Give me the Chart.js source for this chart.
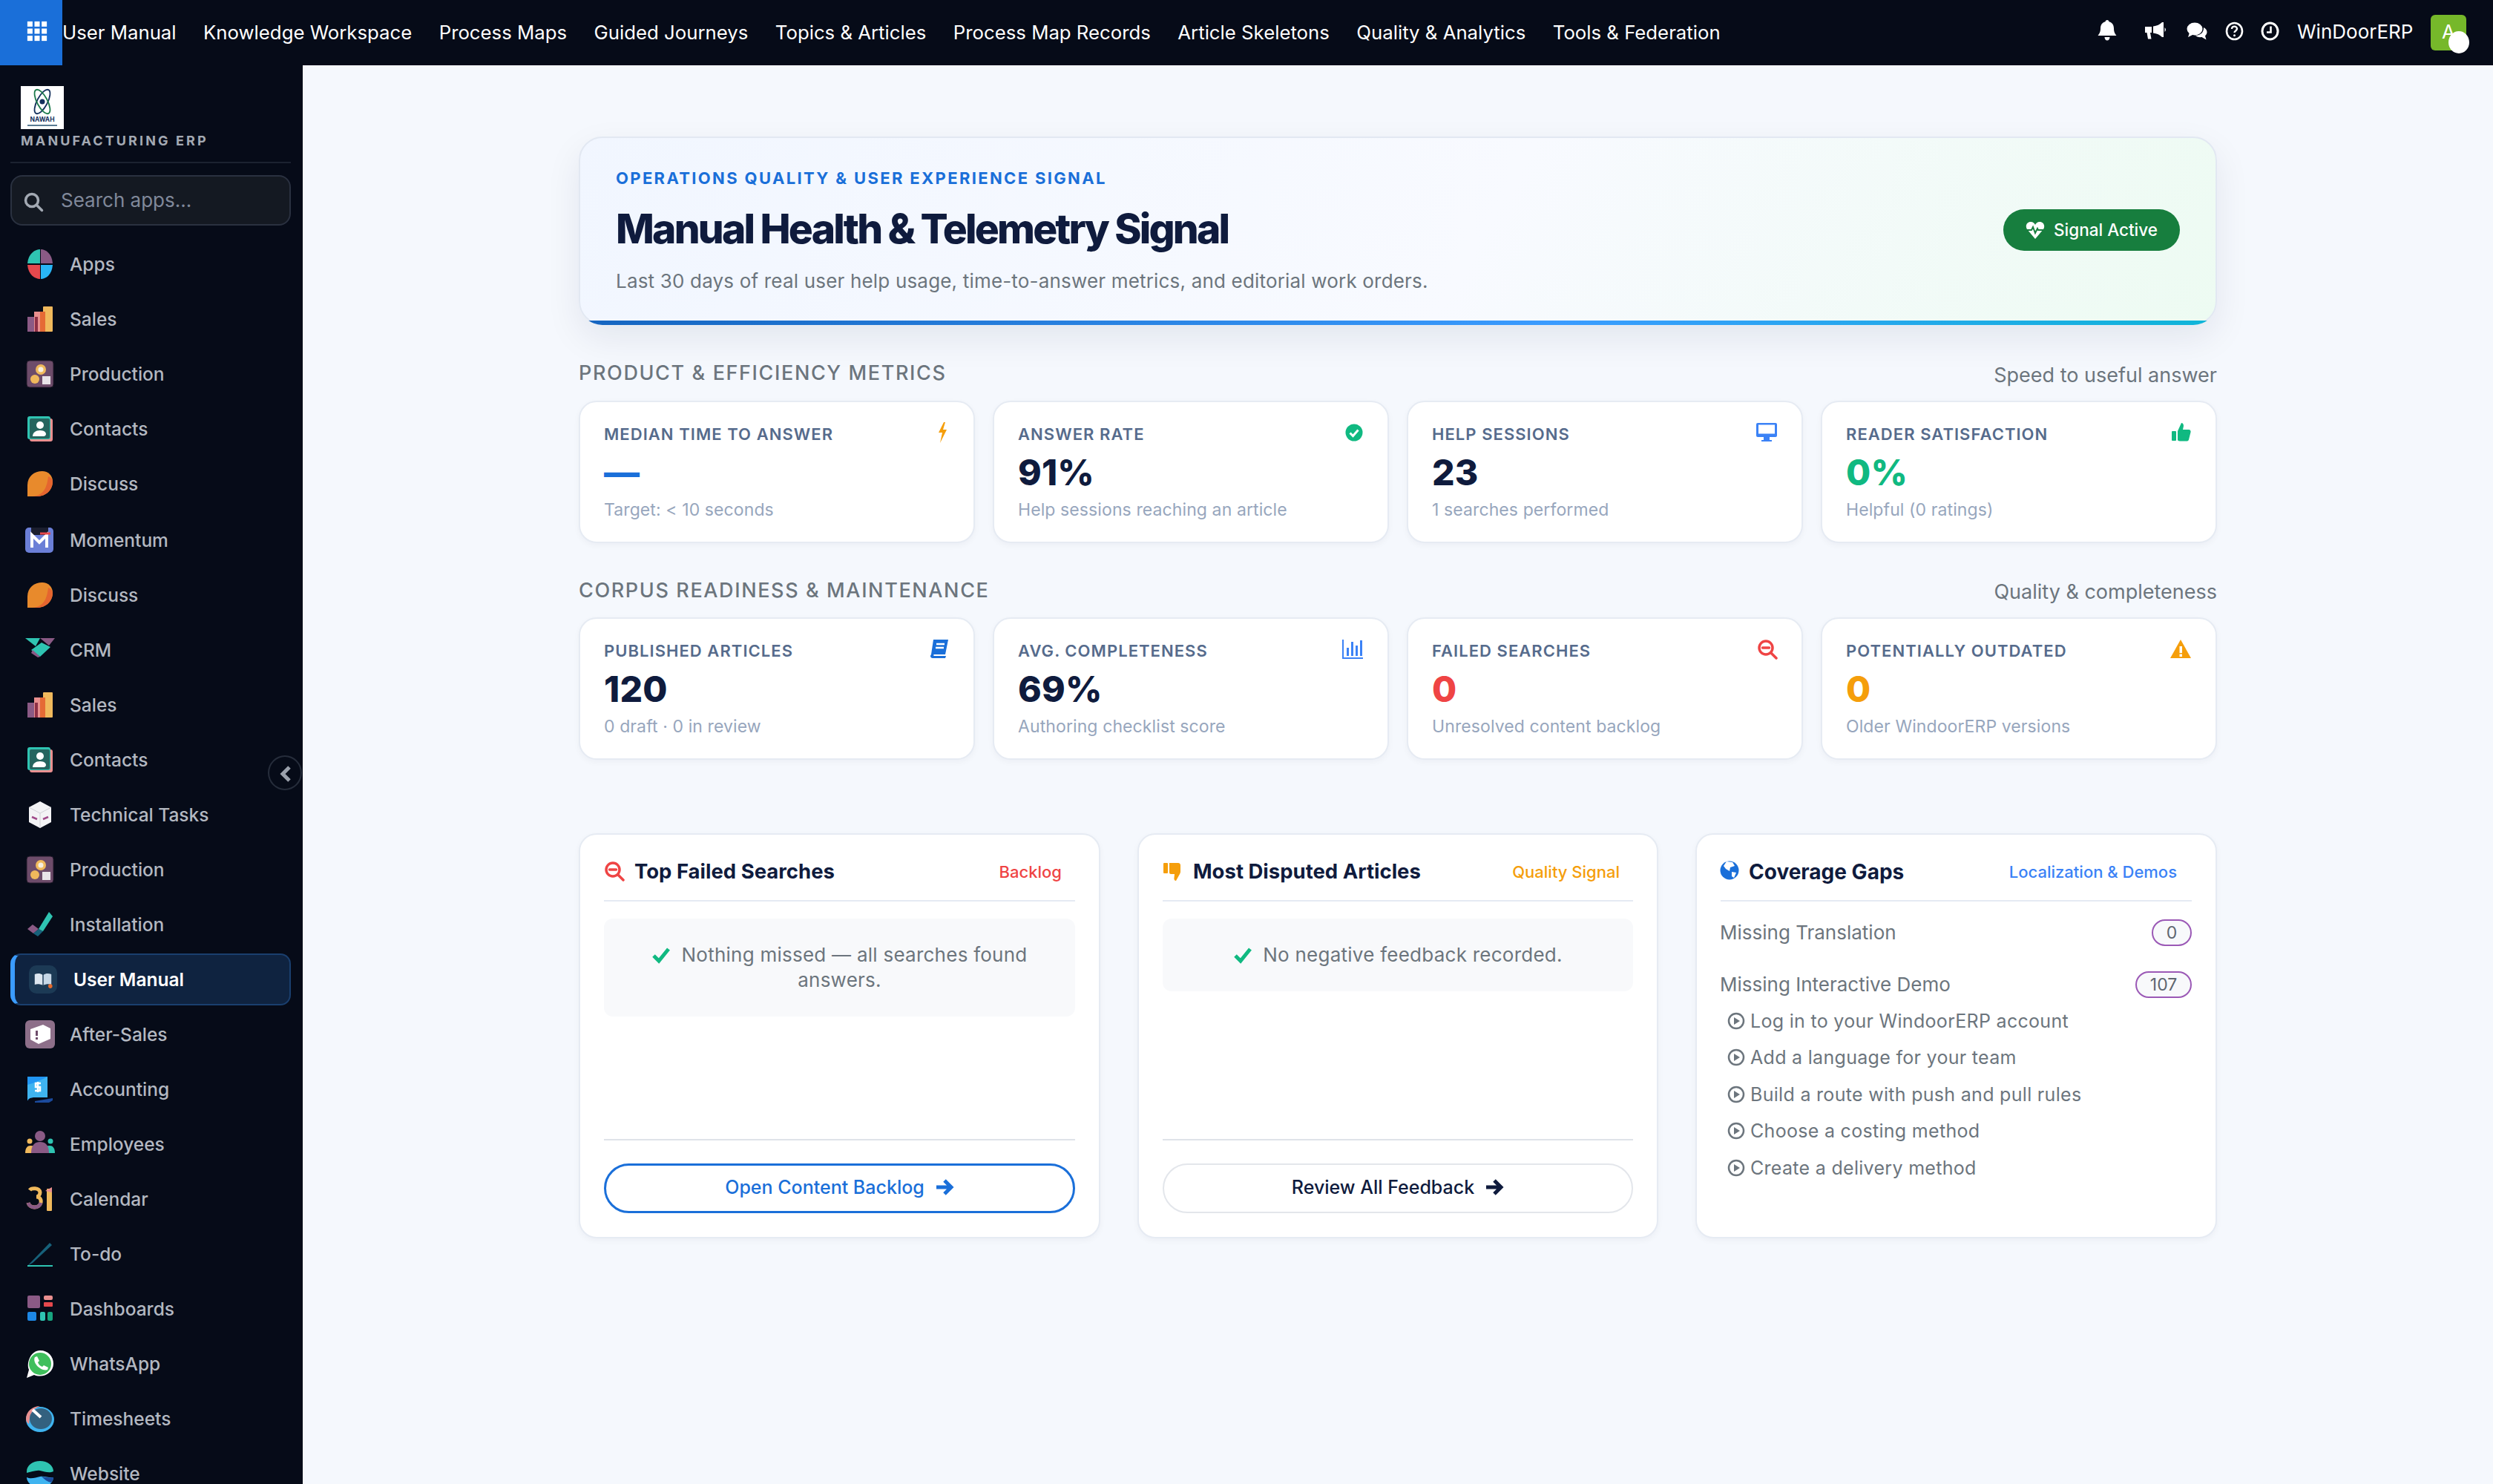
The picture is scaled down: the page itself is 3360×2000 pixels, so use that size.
<!DOCTYPE html>
<html lang="en">
<head>
<meta charset="utf-8">
<title>Manual Health &amp; Telemetry Signal</title>
<script src="https://cdn.jsdelivr.net/npm/chart.js@4"></script>
<style>
* { box-sizing: border-box; margin: 0; padding: 0; }
html, body { width: 3360px; height: 2000px; overflow: hidden; }
body { background: #f5f8fd; font-family: Inter, "Noto Sans", sans-serif; color: #0f1b3d; position: relative; }
.abs { position: absolute; }
.line { position: absolute; white-space: nowrap; line-height: 1; transform: translateY(-50%); }

#topbar { left: 0; top: 0; width: 3360px; height: 88px; background: #060b18; }
#launcher { left: 0; top: 0; width: 84px; height: 88px; background: #1a6fd9; }
#nav { left: 84px; top: 0; height: 86px; display: flex; align-items: center; gap: 36.5px; color: #fff; font-size: 25.75px; white-space: nowrap; }
#avatar { left: 3276px; top: 20px; width: 48px; height: 48px; background: #76b82a; border-radius: 6px; color: #fff; font-size: 26px; line-height: 46px; padding-left: 15px; }
#blob { left: 3300px; top: 42px; width: 28px; height: 30px; background: #fff; border-radius: 50%; }

#sidebar { left: 0; top: 88px; width: 408px; height: 1912px; background: #060b18; overflow: hidden; }
#logo { left: 28px; top: 116px; width: 58px; height: 58px; background: #fff; }
#brand { left: 28px; top: 190px; font-size: 18px; font-weight: 700; letter-spacing: 3.1px; color: #a3a9b3; }
#brandRule { left: 14px; top: 218px; width: 378px; height: 2px; background: #1b2230; }
#search { left: 14px; top: 236px; width: 378px; height: 68px; background: #141922; border: 2px solid #2a3140; border-radius: 16px; }
#searchText { left: 82px; top: 270px; font-size: 26px; color: #80889a; }
.side-item { position: absolute; left: 94px; font-size: 24.5px; font-weight: 500; color: #b3b8c1; white-space: nowrap; line-height: 1; transform: translateY(-50%); }
.side-icon { position: absolute; left: 34px; width: 40px; height: 40px; transform: translateY(-50%); }
#active { left: 14px; top: 1285px; width: 378px; height: 70px; background: #0f2340; border: 2px solid #1a3f6e; border-left: 6px solid #3b9cff; border-radius: 14px; }
#activeIcon { left: 39px; top: 1301px; width: 38px; height: 38px; background: #1c3a55; border-radius: 10px; }
#collapse { left: 361px; top: 1018px; width: 46px; height: 47px; background: #060b18; border: 2px solid #262d3b; border-radius: 50%; }

#hero { left: 780px; top: 184px; width: 2208px; height: 254px; border: 2px solid #e2e8f2; border-radius: 32px; background: linear-gradient(120deg, #f1f6ff 0%, #f8faff 55%, #edfbf2 100%); box-shadow: 0 18px 48px rgba(15, 27, 61, .08); }
#stripClip { left: 780px; top: 184px; width: 2208px; height: 254px; border-radius: 32px; overflow: hidden; }
#signalStrip { position: absolute; left: 0; bottom: 0; display: block; }
#eyebrow { left: 830px; top: 240px; font-size: 22px; font-weight: 700; letter-spacing: 2.35px; color: #1a6fd9; }
#title { left: 830px; top: 308px; font-size: 55px; font-weight: 800; letter-spacing: -2.8px; color: #0f1b3d; }
#desc { left: 830px; top: 379px; font-size: 26px; color: #6c757d; letter-spacing: .18px; }
#pill { left: 2700px; top: 282px; width: 238px; height: 56px; background: #177e3e; border-radius: 28px; color: #fff; font-size: 22.5px; font-weight: 500; }
#pill span { position: absolute; left: 68px; top: 28px; transform: translateY(-50%); white-space: nowrap; line-height: 1; }

.sec { font-size: 27px; font-weight: 500; letter-spacing: 1.62px; color: #6c757d; }
.sec-note { font-size: 27px; color: #6c757d; right: 372px; }

.kpi { position: absolute; width: 534px; height: 192px; background: #fff; border: 2px solid #e6ebf3; border-radius: 24px; box-shadow: 0 3px 8px rgba(15, 27, 61, .04); }
.kpi .lab { left: 32px; top: 43px; font-size: 22px; font-weight: 600; letter-spacing: 1.05px; color: #566b8c; }
.kpi .val { left: 32px; top: 95px; font-size: 48px; font-weight: 800; letter-spacing: .2px; color: #0f1b3d; }
.kpi .note { left: 32px; top: 145px; font-size: 23px; color: #97a6bd; letter-spacing: .1px; }
.kpi svg { position: absolute; top: 26px; right: 32px; width: 30px; height: 30px; }

.panel { position: absolute; top: 1123px; width: 703px; height: 546px; background: #fff; border: 2px solid #e6ebf3; border-radius: 24px; box-shadow: 0 3px 8px rgba(15, 27, 61, .04); }
.p-title { top: 50px; left: 73px; font-size: 27.5px; font-weight: 700; color: #0f1b3d; }
.p-icon { position: absolute; left: 32px; top: 35px; width: 28px; height: 28px; }
.p-tag { top: 50px; right: 50px; font-size: 22px; font-weight: 500; }
.p-rule { position: absolute; left: 32px; right: 32px; top: 88px; height: 2px; background: #e5eaf3; }
.p-foot { position: absolute; left: 32px; right: 32px; top: 410px; height: 2px; background: #dfe3e9; }
.empty { position: absolute; left: 32px; right: 32px; top: 113px; background: #f8f9fb; border-radius: 12px; text-align: center; font-size: 26px; line-height: 34px; color: #6c757d; padding: 32px 40px; letter-spacing: .25px; }
.empty svg { width: 26px; height: 26px; vertical-align: -4px; margin-right: 14px; }
.btn { position: absolute; left: 32px; right: 32px; top: 443px; height: 67px; border-radius: 34px; display: flex; align-items: center; justify-content: center; font-size: 25px; font-weight: 500; background: #fff; gap: 14px; padding-bottom: 3px; }
.btn svg { width: 26px; height: 26px; }
.btn.blue { border: 3px solid #1a6fd9; color: #1a6fd9; }
.btn.plain { border: 2px solid #e3e6eb; color: #0f1b3d; }
.gap-row { left: 31px; font-size: 26px; color: #6c757d; }
.count { position: absolute; right: 32px; height: 36px; border: 2px solid #9b59b6; border-radius: 18px; background: #f8f9fb; font-size: 23px; color: #5f6670; text-align: center; line-height: 33px; }
.demo { left: 72px; font-size: 25px; color: #6c757d; letter-spacing: .3px; }
.demo-icon { position: absolute; left: 41px; width: 24px; height: 24px; transform: translateY(-50%); }
</style>
</head>
<body>
<div class="abs" id="topbar"></div>
<div class="abs" id="launcher">
  <svg class="abs" style="left:36px;top:28px" width="28" height="28" viewBox="0 0 32 32" fill="#fff">
    <rect x="1" y="1" width="8" height="8"/><rect x="12" y="1" width="8" height="8"/><rect x="23" y="1" width="8" height="8"/>
    <rect x="1" y="12" width="8" height="8"/><rect x="12" y="12" width="8" height="8"/><rect x="23" y="12" width="8" height="8"/>
    <rect x="1" y="23" width="8" height="8"/><rect x="12" y="23" width="8" height="8"/><rect x="23" y="23" width="8" height="8"/>
  </svg>
</div>
<div class="abs" id="nav"></div>
<svg class="abs" style="left:2826px;top:26px" width="28" height="30" viewBox="0 0 28 30" fill="#fff"><path d="M14 1c1.500 0 2.500 1 2.500 2.300 4.500 1 6.500 4.600 6.500 9 0 4.800 1.500 7 3.500 9.700H1.500C3.500 19.300 5 17.100 5 12.300c0-4.400 2-8 6.500-9C11.500 2 12.500 1 14 1zM10.500 24h7c0 2.400-1.500 4.500-3.500 4.500s-3.500-2.100-3.500-4.500z"/></svg>
<svg class="abs" style="left:2890px;top:29px" width="30" height="26" viewBox="0 0 30 26" fill="#fff"><path d="M26 1v20l-2 0c-3-3-7-5-12-5.500V6.500C17 6 21 4 24 1zM1 7h9v8H8l1.500 8.500H5L3.500 15H1zM27.500 8c1 1 1.500 2 1.500 3s-.5 2-1.500 3z"/></svg>
<svg class="abs" style="left:2947px;top:29px" width="28" height="26" viewBox="0 0 28 26" fill="#fff"><ellipse cx="11" cy="10" rx="10.500" ry="8.500"/><path d="M4 15l-2 6 7-3.500zM23 8c3 1.500 4.500 3.800 4.500 6.300 0 2-1 3.700-2.500 5l1.500 5.200-6-3.500c-4 .5-7-.5-9-2.500 6 .5 12-3 11.500-10.500z"/></svg>
<svg class="abs" style="left:2999px;top:29px" width="25" height="26" viewBox="0 0 25 26" fill="none" stroke="#fff" stroke-width="2.600"><ellipse cx="12.500" cy="13" rx="10.500" ry="11"/><path d="M9 10c0-2.200 1.500-3.400 3.500-3.400S16 8 16 9.800c0 2.600-3.500 2.700-3.500 5.200" stroke-width="2.400"/><circle cx="12.500" cy="18.800" r="1.500" fill="#fff" stroke="none"/></svg>
<svg class="abs" style="left:3047px;top:29px" width="25" height="26" viewBox="0 0 25 26" fill="none" stroke="#fff" stroke-width="3"><ellipse cx="12.500" cy="13" rx="10.500" ry="11"/><path d="M13.500 6.500V14.500H8" stroke-width="2.600"/></svg>
<div class="line" style="left:3096px;top:43px;font-size:26px;color:#fff" id="userName"></div>
<div class="abs" id="avatar">A</div>
<div class="abs" id="blob"></div>

<div class="abs" id="sidebar"></div>
<div class="abs" id="logo">
  <svg width="58" height="58" viewBox="0 0 58 58">
    <g fill="none" stroke-width="1.800">
      <ellipse cx="29" cy="21" rx="7" ry="18" stroke="#14305c" transform="rotate(28 29 21)"/>
      <ellipse cx="29" cy="21" rx="7" ry="18" stroke="#1c7a4b" transform="rotate(-28 29 21)"/>
      <circle cx="29" cy="21" r="3.500" fill="#14305c" stroke="none"/>
    </g>
    <text x="29" y="48" font-size="8.500" font-weight="700" text-anchor="middle" fill="#14305c" font-family="Inter">NAWAH</text>
    <rect x="9" y="52" width="40" height="2" fill="#5a7a92"/>
  </svg>
</div>
<div class="line" id="brand"></div>
<div class="abs" id="brandRule"></div>
<div class="abs" id="search"></div>
<svg class="abs" style="left:31px;top:258px" width="28" height="28" viewBox="0 0 28 28" fill="none" stroke="#a3a9b3" stroke-width="3.500"><circle cx="12" cy="12" r="8.500"/><path d="M18.500 18.500l7 7" stroke-linecap="round"/></svg>
<div class="line" id="searchText"></div>
<div class="abs" id="active"></div>
<div class="abs" id="activeIcon"></div>
<div id="sideList"></div>
<div class="abs" id="collapse">
  <svg class="abs" style="left:13px;top:11px" width="18" height="24" viewBox="0 0 18 24" fill="none" stroke="#9aa0ab" stroke-width="5"><path d="M14 3L5 12l9 9"/></svg>
</div>

<div class="abs" id="hero"></div>
<div class="abs" id="stripClip"><canvas id="signalStrip" width="2208" height="6"></canvas></div>
<div class="line" id="eyebrow"></div>
<div class="line" id="title"></div>
<div class="line" id="desc"></div>
<div class="abs" id="pill">
  <svg class="abs" style="left:30px;top:15px" width="26" height="26" viewBox="0 0 26 26"><path d="M13 25L2 12C-1 7 2 2 7 2c3 0 5 2 6 4 1-2 3-4 6-4 5 0 8 5 5 10z" fill="#fff"/><path d="M1 13h7l2-4 3 8 3-6 1 2h8" fill="none" stroke="#177e3e" stroke-width="2"/></svg>
  <span id="pillText"></span>
</div>

<div class="line sec" id="sec1" style="left:780px;top:502px"></div>
<div class="line sec-note" id="sec1Note" style="top:505px"></div>
<div id="row1"></div>
<div class="line sec" id="sec2" style="left:780px;top:795px"></div>
<div class="line sec-note" id="sec2Note" style="top:797px"></div>
<div id="row2"></div>

<div class="panel" style="left:780px">
  <svg class="p-icon" viewBox="0 0 28 28" fill="none" stroke="#ef4444" stroke-width="3.500"><circle cx="12" cy="12" r="9"/><path d="M19 19l7 7M7.500 12h9" stroke-linecap="round"/></svg>
  <div class="line p-title" id="p1Title"></div>
  <div class="line p-tag" id="p1Tag" style="color:#ef4444"></div>
  <div class="p-rule"></div>
  <div class="empty"><svg viewBox="0 0 26 26" fill="none" stroke="#10b981" stroke-width="5"><path d="M3 14l7 7L23 5"/></svg><span id="p1Empty"></span></div>
  <div class="p-foot"></div>
  <div class="btn blue"><span id="p1Btn"></span><svg viewBox="0 0 26 26" fill="none" stroke="#1a6fd9" stroke-width="5"><path d="M2 13h19M13 4l9 9-9 9"/></svg></div>
</div>
<div class="panel" style="left:1533px;width:702px">
  <svg class="p-icon" viewBox="0 0 28 28" fill="#f59e0b"><rect x="1" y="3" width="6" height="14" rx="1"/><path d="M9 3h12c1.500 0 3 1 3 3v9c0 1-.5 2-1 3l-5 9c-2 0-3-2-2.500-4l.5-5H11c-1 0-2-1-2-2z"/></svg>
  <div class="line p-title" id="p2Title"></div>
  <div class="line p-tag" id="p2Tag" style="color:#f59e0b"></div>
  <div class="p-rule"></div>
  <div class="empty"><svg viewBox="0 0 26 26" fill="none" stroke="#10b981" stroke-width="5"><path d="M3 14l7 7L23 5"/></svg><span id="p2Empty"></span></div>
  <div class="p-foot"></div>
  <div class="btn plain"><span id="p2Btn"></span><svg viewBox="0 0 26 26" fill="none" stroke="#0f1b3d" stroke-width="5"><path d="M2 13h19M13 4l9 9-9 9"/></svg></div>
</div>
<div class="panel" id="gapPanel" style="left:2285px">
  <svg class="p-icon" style="left:31px;top:35px;width:26px;height:26px" viewBox="0 0 26 26"><circle cx="13" cy="13" r="12.500" fill="#1a6fd9"/><path d="M9 1l8 1 3 5-6 2-1 5-5-3-3-4zM16 15l6 1-3 7-3-2z" fill="#fff"/></svg>
  <div class="line p-title" id="p3Title" style="left:70px;font-size:28px"></div>
  <div class="line p-tag" id="p3Tag" style="color:#3b82f6;right:52px"></div>
  <div class="p-rule"></div>
</div>

<script>
// The reference is a metrics page with no plotted series. Its one drawn bar is the
// full-width signal strip under the hero, so that strip is what Chart.js draws.
const navLabels = ['User Manual', 'Knowledge Workspace', 'Process Maps', 'Guided Journeys', 'Topics & Articles', 'Process Map Records', 'Article Skeletons', 'Quality & Analytics', 'Tools & Federation'];
const sideLabels = ['Apps', 'Sales', 'Production', 'Contacts', 'Discuss', 'Momentum', 'Discuss', 'CRM', 'Sales', 'Contacts', 'Technical Tasks', 'Production', 'Installation', 'User Manual', 'After-Sales', 'Accounting', 'Employees', 'Calendar', 'To-do', 'Dashboards', 'WhatsApp', 'Timesheets', 'Website'];
const sideIcons = ['apps', 'sales', 'production', 'contacts', 'discuss', 'momentum', 'discuss', 'crm', 'sales', 'contacts', 'tech', 'production', 'install', 'manual', 'after', 'accounting', 'employees', 'calendar', 'todo', 'dashboards', 'whatsapp', 'timesheets', 'website'];

const productLabels = ['MEDIAN TIME TO ANSWER', 'ANSWER RATE', 'HELP SESSIONS', 'READER SATISFACTION'];
const productValues = ['—', '91%', '23', '0%'];
const productNotes = ['Target: < 10 seconds', 'Help sessions reaching an article', '1 searches performed', 'Helpful (0 ratings)'];
const corpusLabels = ['PUBLISHED ARTICLES', 'AVG. COMPLETENESS', 'FAILED SEARCHES', 'POTENTIALLY OUTDATED'];
const corpusValues = ['120', '69%', '0', '0'];
const corpusNotes = ['0 draft · 0 in review', 'Authoring checklist score', 'Unresolved content backlog', 'Older WindoorERP versions'];

const gapLabels = ['Missing Translation', 'Missing Interactive Demo'];
const gapCounts = ['0', '107'];
const demoTopics = ['Log in to your WindoorERP account', 'Add a language for your team', 'Build a route with push and pull rules', 'Choose a costing method', 'Create a delivery method'];

const signalLabels = ['Signal'];
const signalValues = [100];

const kpiIcons = {
  bolt: '<svg viewBox="0 0 30 30" fill="#f59e0b"><path d="M22 1L15 15h5l-3 14 9-18h-5l3-10z"/></svg>',
  check: '<svg viewBox="0 0 30 30"><circle cx="17" cy="15" r="11.500" fill="#10b981"/><path d="M11.500 15.500l4 4 7-8" fill="none" stroke="#fff" stroke-width="3"/></svg>',
  screen: '<svg viewBox="0 0 30 30"><rect x="1" y="2" width="28" height="19" rx="2" fill="#3b82f6"/><rect x="4" y="4.500" width="22" height="12" fill="#fff"/><rect x="11" y="21" width="8" height="4" fill="#3b82f6"/><rect x="8" y="25" width="14" height="2" fill="#3b82f6"/></svg>',
  thumb: '<svg viewBox="0 0 30 30" fill="#10b981"><rect x="3" y="13" width="6" height="13" rx="1"/><path d="M11 13l5-11c2 0 3 2 3 4l-1 5h8c2 0 3 2 2.500 3.500l-2.500 10c-.5 1.500-1.500 2-3 2H14c-2 0-3-1-3-2z"/></svg>',
  book: '<svg viewBox="0 0 30 30"><path d="M8 2h20l-4 20H5z" fill="#1a6fd9"/><path d="M5 22c-2 2-1 5 2 5h17l1-3H9c-1 0-1-2 0-2z" fill="#1a6fd9"/><path d="M12 8h11M11 13h11" stroke="#fff" stroke-width="2.500"/></svg>',
  bars: '<svg viewBox="0 0 30 30" fill="#3b82f6"><rect x="1" y="26" width="28" height="2"/><rect x="1" y="2" width="2" height="25"/><rect x="7" y="13" width="3" height="11"/><rect x="13" y="5" width="3" height="19"/><rect x="19" y="10" width="3" height="14"/><rect x="25" y="3" width="3" height="21"/></svg>',
  zoom: '<svg viewBox="0 0 30 30" fill="none" stroke="#ef4444" stroke-width="3.500"><circle cx="14" cy="13" r="9"/><path d="M21 20l7 7M9.500 13h9" stroke-linecap="round"/></svg>',
  warn: '<svg viewBox="0 0 30 30"><path d="M15 2l14 25H1z" fill="#f59e0b"/><rect x="13.500" y="11" width="3.500" height="9" fill="#fff"/><rect x="13.500" y="21.500" width="3.500" height="3.500" fill="#fff"/></svg>'
};

const sideArt = {
  apps: '<path d="M20 19V0C13 0 4 6 3 19z" fill="#2fc4b2"/><path d="M21 19V0c7 0 15 6 16 19z" fill="#8a5a85"/><path d="M20 21v19C13 40 4 34 3 21z" fill="#e5484d"/><path d="M21 21v19c7 0 15-6 16-19z" fill="#29b6f6"/>',
  sales: '<rect x="3" y="17" width="14" height="20" fill="#8a5a85"/><rect x="12" y="10" width="12" height="27" fill="#e98f8f"/><rect x="13" y="17" width="4" height="20" fill="#8e3047"/><rect x="24" y="3" width="13" height="34" rx="1" fill="#f0b95c"/><rect x="20" y="10" width="7" height="27" fill="#e56a35"/>',
  production: '<rect x="2" y="2" width="36" height="36" rx="4" fill="#6d4c6a" stroke="#221a2a"/><circle cx="21" cy="14" r="7" fill="#f0b95c"/><circle cx="21" cy="14" r="3.500" fill="#f7efe0"/><circle cx="13" cy="27" r="6" fill="#f0b95c"/><rect x="23" y="23" width="11" height="11" fill="#e8e4e8"/>',
  contacts: '<rect x="6" y="6" width="31" height="31" rx="3" fill="#e98f8f"/><rect x="3" y="3" width="31" height="31" rx="3" fill="#2fc4b2"/><rect x="6" y="6" width="27" height="27" rx="2" fill="#25655f"/><circle cx="20" cy="15" r="5" fill="#fff"/><path d="M10 30c0-5 4-8 10-8s8 3 8 5c0 2-2 3-3 3z" fill="#fff"/>',
  discuss: '<path d="M3 37V22C3 10 12 3 23 3c8 0 14 6 14 14 0 11-9 20-21 20z" fill="#e88a2c"/><path d="M37 17c0 11-9 20-21 20l-6 0c12-1 19-8 21-27 4 2 6 4 6 7z" fill="#e5652f"/>',
  momentum: '<rect x="0" y="3" width="38" height="34" rx="5" fill="#6b7fd7"/><rect x="8" y="3" width="23" height="10" fill="#1b1e2e"/><path d="M9 30V13l10 10 10-10v17" fill="none" stroke="#fff" stroke-width="4"/><path d="M20 11h14" stroke="#e5484d" stroke-width="3"/>',
  crm: '<path d="M0 4h20L14 15z" fill="#2fc4b2"/><path d="M20 4h20l-8 10z" fill="#8a5a85"/><path d="M8 20l14-10 12 6-14 13z" fill="#2fc4b2"/><path d="M10 20l10 9-3 1-9-6z" fill="#8a5a85"/>',
  tech: '<path d="M20 2l15 8v20l-15 8-15-8V10z" fill="#f3f3f5"/><path d="M5 10l15 8 15-8" fill="none" stroke="#d0d0d6" stroke-width="1"/><path d="M20 18v20" stroke="#d0d0d6"/><path d="M9 23l7 3M24 26l7-3" stroke="#a04a8a" stroke-width="2.500"/>',
  install: '<path d="M3 26l7-6 8 6-7 6z" fill="#8a5a85"/><path d="M11 32l7-6 6 3-7 7z" fill="#17617a"/><path d="M18 26L32 3l5 6-13 20z" fill="#2fc4b2"/>',
  manual: '<path d="M4 10c5-2 11-2 15 1v20c-4-2-10-3-15-1z" fill="#dce6ef"/><path d="M36 10c-5-2-11-2-15 1v20c4-2 10-3 15-1z" fill="#c6d7e6"/><circle cx="34" cy="33" r="4" fill="#e56a2c"/>',
  after: '<rect x="0" y="1" width="40" height="38" rx="6" fill="#8d6f89"/><path d="M7 13l17-6 10 5v14l-16 7-11-6z" fill="#fff"/><rect x="14" y="15" width="3" height="7" fill="#6d4c6a"/><rect x="14" y="24" width="3" height="3" fill="#6d4c6a"/>',
  accounting: '<path d="M13 36l24-4v3l-5 3H13z" fill="#1b4a9c"/><path d="M3 3h27v28H11c-5 0-8 3-8 5z" fill="#2196f3"/><path d="M3 14c4-1 14-4 27-11v28H11c-5 0-8 3-8 5z" fill="#3fb4f0"/><path d="M21 12h-7v5h6v5h-7M17 10v14" fill="none" stroke="#fff" stroke-width="2.500"/>',
  employees: '<circle cx="20" cy="9" r="7" fill="#8a5a85"/><circle cx="6" cy="16" r="3.500" fill="#f0b95c"/><circle cx="34" cy="16" r="3.500" fill="#2fc4b2"/><path d="M0 32c0-7 3-10 7-10s6 2 8 5v5z" fill="#f0b95c"/><path d="M40 32c0-7-3-10-7-10s-6 2-8 5v5z" fill="#2fc4b2"/><path d="M8 32c0-11 5-15 12-15s12 4 12 15z" fill="#8a5a85"/>',
  calendar: '<path d="M6 8c2-3 13-4 14 3 0 4-3 6-5 6 4 0 7 3 6 8-2 8-15 8-17 0" fill="none" stroke="#f0b95c" stroke-width="5"/><path d="M4 25c2 8 15 8 17 0" fill="none" stroke="#8a5a85" stroke-width="5"/><rect x="29" y="6" width="7" height="30" rx="1" fill="#f0b95c"/><path d="M27 9l9-5v7z" fill="#e98f8f"/>',
  todo: '<path d="M3 36L33 5l3 3L10 32z" fill="#17617a"/><rect x="3" y="35" width="34" height="2" fill="#2fc4b2"/>',
  dashboards: '<rect x="3" y="2" width="17" height="17" rx="2" fill="#8a5a85"/><rect x="25" y="2" width="12" height="6" rx="2" fill="#e98f8f"/><rect x="25" y="11" width="12" height="6" rx="1" fill="#e5484d"/><rect x="3" y="24" width="12" height="12" rx="2" fill="#1d87e4"/><rect x="20" y="24" width="7" height="12" rx="2" fill="#2fc4b2"/><rect x="30" y="24" width="7" height="12" rx="2" fill="#17a57f"/>',
  whatsapp: '<path d="M2 39l3-11C1 18 8 2 20 2c11 0 18 8 18 18 0 13-15 20-26 15z" fill="#fff"/><circle cx="20" cy="20" r="15" fill="#3fbf5c"/><path d="M13 11l3-1 3 6-2 2c1 3 3 5 6 6l2-2 6 3-1 3c-8 3-21-9-17-17z" fill="#fff"/>',
  timesheets: '<ellipse cx="20" cy="21" rx="19" ry="17" fill="#3fb4f0"/><path d="M1 20C1 10 10 3 20 3c-9 3-14 9-15 24-3-2-4-4-4-7z" fill="#e98f8f"/><ellipse cx="21" cy="20" rx="15" ry="14" fill="#33617f"/><path d="M10 8l11 10" stroke="#fff" stroke-width="4"/>',
  website: '<path d="M2 17C2 9 10 3 20 3s18 6 18 14c-6 3-12 0-18-1-6-1-12 2-18 3z" fill="#2fc4b2"/><path d="M2 25c6 3 12 0 18-1s12 2 18 1c0 7-8 14-18 14S2 32 2 25z" fill="#3fb4f0"/><path d="M22 24c6 1 11 2 16 1 0 2-1 5-3 7-5-1-9-4-13-8z" fill="#1b4a9c"/>'
};

function setText(id, text) {
  document.getElementById(id).textContent = text;
}

function fillRow(holderId, top, labels, values, notes, icons, tones) {
  const holder = document.getElementById(holderId);
  labels.forEach((label, i) => {
    const card = document.createElement('div');
    card.className = 'kpi';
    card.style.left = (780 + i * 558) + 'px';
    card.style.top = top + 'px';
    card.innerHTML = kpiIcons[icons[i]] +
      '<div class="line lab"></div><div class="line val"></div><div class="line note"></div>';
    card.querySelector('.lab').textContent = label;
    card.querySelector('.val').textContent = values[i];
    card.querySelector('.val').style.color = tones[i];
    card.querySelector('.note').textContent = notes[i];
    holder.appendChild(card);
  });
}

document.addEventListener('DOMContentLoaded', function () {
  const nav = document.getElementById('nav');
  navLabels.forEach(label => {
    const item = document.createElement('span');
    item.textContent = label;
    nav.appendChild(item);
  });

  const sideList = document.getElementById('sideList');
  sideLabels.forEach((label, i) => {
    const y = 356 + i * 74 + (i >= 5 ? 2 : 0);
    const active = label === 'User Manual';
    const icon = document.createElementNS('http://www.w3.org/2000/svg', 'svg');
    icon.setAttribute('class', 'side-icon');
    icon.setAttribute('viewBox', '0 0 40 40');
    icon.style.top = y + 'px';
    icon.innerHTML = sideArt[sideIcons[i]];
    if (active) {
      icon.style.left = '44px';
      icon.style.width = '28px';
      icon.style.height = '28px';
    }
    sideList.appendChild(icon);
    const text = document.createElement('div');
    text.className = 'side-item';
    text.style.top = y + 'px';
    text.textContent = label;
    if (active) {
      text.style.left = '99px';
      text.style.color = '#fff';
      text.style.fontWeight = '600';
    }
    sideList.appendChild(text);
  });

  setText('userName', 'WinDoorERP');
  setText('brand', 'MANUFACTURING ERP');
  setText('searchText', 'Search apps...');
  setText('eyebrow', 'OPERATIONS QUALITY & USER EXPERIENCE SIGNAL');
  setText('title', 'Manual Health & Telemetry Signal');
  setText('desc', 'Last 30 days of real user help usage, time-to-answer metrics, and editorial work orders.');
  setText('pillText', 'Signal Active');
  setText('sec1', 'PRODUCT & EFFICIENCY METRICS');
  setText('sec1Note', 'Speed to useful answer');
  setText('sec2', 'CORPUS READINESS & MAINTENANCE');
  setText('sec2Note', 'Quality & completeness');
  setText('p1Title', 'Top Failed Searches');
  setText('p1Tag', 'Backlog');
  setText('p1Empty', 'Nothing missed — all searches found answers.');
  setText('p1Btn', 'Open Content Backlog');
  setText('p2Title', 'Most Disputed Articles');
  setText('p2Tag', 'Quality Signal');
  setText('p2Empty', 'No negative feedback recorded.');
  setText('p2Btn', 'Review All Feedback');
  setText('p3Title', 'Coverage Gaps');
  setText('p3Tag', 'Localization & Demos');

  fillRow('row1', 540, productLabels, productValues, productNotes,
    ['bolt', 'check', 'screen', 'thumb'], ['#1a6fd9', '#0f1b3d', '#0f1b3d', '#10b981']);
  fillRow('row2', 832, corpusLabels, corpusValues, corpusNotes,
    ['book', 'bars', 'zoom', 'warn'], ['#0f1b3d', '#0f1b3d', '#ef4444', '#f59e0b']);

  const gapPanel = document.getElementById('gapPanel');
  const rowTops = [132, 202];
  const pillWidths = [54, 76];
  gapLabels.forEach((label, i) => {
    const row = document.createElement('div');
    row.className = 'line gap-row';
    row.style.top = rowTops[i] + 'px';
    row.textContent = label;
    gapPanel.appendChild(row);
    const count = document.createElement('div');
    count.className = 'count';
    count.style.top = (rowTops[i] - 18) + 'px';
    count.style.width = pillWidths[i] + 'px';
    count.textContent = gapCounts[i];
    gapPanel.appendChild(count);
  });
  demoTopics.forEach((topic, i) => {
    const y = 250.5 + i * 49.5;
    const icon = document.createElementNS('http://www.w3.org/2000/svg', 'svg');
    icon.setAttribute('class', 'demo-icon');
    icon.setAttribute('viewBox', '0 0 24 24');
    icon.style.top = y + 'px';
    icon.innerHTML = '<circle cx="12" cy="12" r="10" fill="none" stroke="#6c757d" stroke-width="2.500"/><path d="M9 7l8 5-8 5z" fill="#6c757d"/>';
    gapPanel.appendChild(icon);
    const row = document.createElement('div');
    row.className = 'line demo';
    row.style.top = y + 'px';
    row.textContent = topic;
    gapPanel.appendChild(row);
  });

  const stripCanvas = document.getElementById('signalStrip');
  const ctx = stripCanvas.getContext('2d');
  const stripFill = ctx.createLinearGradient(0, 0, 2208, 0);
  stripFill.addColorStop(0, '#1565c0');
  stripFill.addColorStop(0.6, '#3b9cff');
  stripFill.addColorStop(1, '#0fb5d8');
  new Chart(ctx, {
    type: 'bar',
    data: {
      labels: signalLabels,
      datasets: [{
        data: signalValues,
        backgroundColor: stripFill,
        borderWidth: 0,
        barPercentage: 1,
        categoryPercentage: 1
      }]
    },
    options: {
      indexAxis: 'y',
      responsive: false,
      animation: false,
      devicePixelRatio: 1,
      plugins: { legend: { display: false }, tooltip: { enabled: false } },
      layout: { padding: 0 },
      scales: {
        x: { display: false, min: 0, max: 100 },
        y: { display: false }
      }
    }
  });
});
</script>
</body>
</html>
